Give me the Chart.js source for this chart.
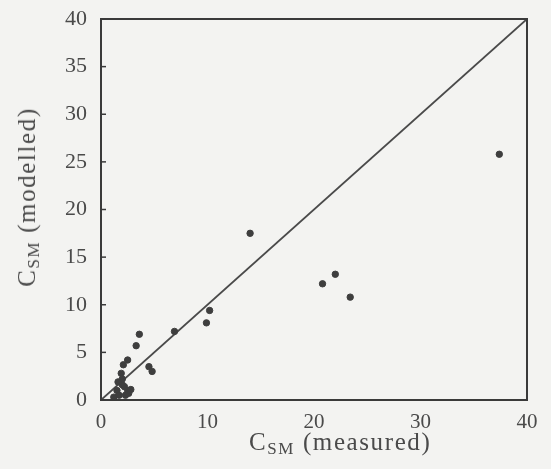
<!DOCTYPE html>
<html>
<head>
<meta charset="utf-8">
<script src="https://cdn.jsdelivr.net/npm/chart.js@4"></script>
<style>
  html, body { margin: 0; padding: 0; background: #f3f3f1; }
  #wrap { position: relative; width: 551px; height: 469px; }
  canvas { position: absolute; left: 0; top: 0; }
  .lbl { position: absolute; font-family: "Liberation Serif", "DejaVu Serif", serif; color: #4a4a4a; white-space: nowrap; line-height: 1; font-size: 25px; letter-spacing: 1.6px; }
  .lbl sub { font-size: 17px; vertical-align: -4px; }
  #xt { left: 249px; top: 429px; }
  #yt { left: 28px; top: 197px; transform: translate(-50%, -50%) rotate(-90deg); }
</style>
</head>
<body>
<div id="wrap">
  <canvas id="c" width="551" height="469"></canvas>
  <div class="lbl" id="xt">C<sub>SM</sub> (measured)</div>
  <div class="lbl" id="yt">C<sub>SM</sub> (modelled)</div>
</div>
<script>
const measured = [37.4, 14.0, 20.8, 22.0, 23.4, 10.2, 9.9, 6.9, 3.6, 3.3, 2.5, 2.1, 1.9, 4.5, 4.8,
                  2.0, 2.5, 1.5, 2.6, 1.7, 2.3, 1.2, 2.0, 2.8, 1.6, 2.2];
const modelled = [25.8, 17.5, 12.2, 13.2, 10.8, 9.4, 8.1, 7.2, 6.9, 5.7, 4.2, 3.7, 2.8, 3.5, 3.0,
                  1.6, 1.0, 1.0, 0.7, 0.5, 0.5, 0.3, 2.2, 1.1, 1.9, 1.4];
const lineX = [0, 40];
const lineY = [0, 40];
const xTicks = [0, 10, 20, 30, 40];
const yTicks = [0, 5, 10, 15, 20, 25, 30, 35, 40];

const pts = measured.map((x, i) => ({ x: x, y: modelled[i] }));
const diag = lineX.map((x, i) => ({ x: x, y: lineY[i] }));

const frame = {
  id: 'frame',
  afterDraw(chart) {
    const { ctx, chartArea: a, scales } = chart;
    ctx.save();
    ctx.strokeStyle = '#3a3a3a';
    ctx.lineWidth = 2;
    ctx.strokeRect(a.left, a.top, a.right - a.left, a.bottom - a.top);
    ctx.lineWidth = 1.5;
    yTicks.forEach(v => {
      const y = scales.y.getPixelForValue(v);
      ctx.beginPath(); ctx.moveTo(a.left, y); ctx.lineTo(a.left + 5, y); ctx.stroke();
    });
    ctx.restore();
  }
};

new Chart(document.getElementById('c'), {
  type: 'scatter',
  data: {
    datasets: [
      { data: diag, showLine: true, borderColor: '#4a4a4a', borderWidth: 1.8, pointRadius: 0, order: 2 },
      { data: pts, backgroundColor: '#3e3e3e', borderColor: '#3e3e3e', pointRadius: 3.2, order: 1 }
    ]
  },
  options: {
    responsive: false,
    animation: false,
    layout: { padding: { left: 0, right: 24, top: 19, bottom: 0 } },
    plugins: { legend: { display: false }, tooltip: { enabled: false } },
    scales: {
      x: {
        type: 'linear', min: 0, max: 40,
        afterBuildTicks: s => { s.ticks = xTicks.map(v => ({ value: v })); },
        afterFit: s => { s.height = 69; s.paddingLeft = 0; s.paddingRight = 0; },
        grid: { display: false, drawTicks: false },
        border: { display: false },
        ticks: { padding: 10, color: '#4a4a4a', font: { family: 'Liberation Serif', size: 21 } }
      },
      y: {
        type: 'linear', min: 0, max: 40,
        afterBuildTicks: s => { s.ticks = yTicks.map(v => ({ value: v })); },
        afterFit: s => { s.width = 101; s.paddingTop = 0; s.paddingBottom = 0; },
        grid: { display: false, drawTicks: false },
        border: { display: false },
        ticks: { padding: 14, color: '#4a4a4a', font: { family: 'Liberation Serif', size: 22 } }
      }
    }
  },
  plugins: [frame]
});
</script>
</body>
</html>
